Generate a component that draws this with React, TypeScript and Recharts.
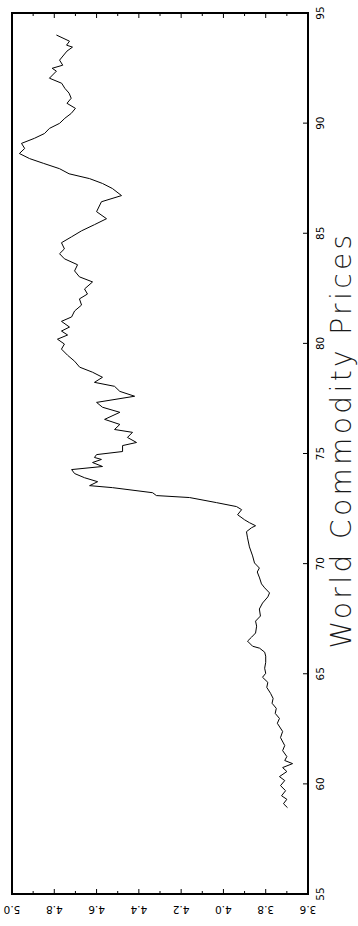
import React from "react";
import { LineChart, Line, XAxis, YAxis, ReferenceArea } from "recharts";

// log world commodity price index
const years = [
  58.92, 59.1, 59.3, 59.46, 59.69, 59.92, 60.15, 60.33, 60.56, 60.74, 60.92, 61.06, 61.24, 61.51,
  61.74, 62.1, 62.38, 62.75, 62.97, 63.2, 63.43, 63.66, 63.88, 64.11, 64.38, 64.61, 64.84, 65.02,
  65.25, 65.52, 65.8, 65.98, 66.16, 66.25, 66.48, 66.66, 66.85, 67.16, 67.39, 67.62, 67.94, 68.21,
  68.49, 68.67, 68.9, 69.08, 69.35, 69.62, 69.8, 70.03, 70.35, 70.76, 71.17, 71.45, 71.63, 71.72,
  71.86, 71.99, 72.22, 72.45, 72.59, 72.77, 73.0, 73.09, 73.22, 73.45, 73.54, 73.72, 73.9, 74.09,
  74.27, 74.41, 74.59, 74.73, 74.82, 74.95, 75.09, 75.36, 75.5, 75.73, 75.96, 76.09, 76.32, 76.55,
  76.87, 77.1, 77.32, 77.6, 77.82, 78.05, 78.23, 78.46, 78.69, 78.92, 79.19, 79.46, 79.74, 79.97,
  80.19, 80.38, 80.56, 80.74, 81.0, 81.2, 81.47, 81.74, 82.02, 82.24, 82.47, 82.79, 83.02, 83.29,
  83.57, 83.84, 84.07, 84.29, 84.57, 84.84, 85.11, 85.39, 85.66, 85.98, 86.43, 86.71, 87.03, 87.26,
  87.48, 87.7, 87.93, 88.17, 88.39, 88.62, 88.85, 89.08, 89.31, 89.53, 89.76, 89.99, 90.22, 90.44,
  90.67, 90.9, 91.13, 91.36, 91.58, 91.81, 92.04, 92.36, 92.49, 92.63, 92.86, 93.27, 93.45, 93.54,
  93.72, 94.0,
];

const prices = [
  3.697, 3.716, 3.7, 3.725, 3.706, 3.73, 3.71, 3.735, 3.7, 3.72, 3.673, 3.71, 3.7, 3.72,
  3.71, 3.73, 3.72, 3.745, 3.735, 3.755, 3.75, 3.77, 3.765, 3.777, 3.795, 3.79, 3.815, 3.8,
  3.805, 3.8, 3.8, 3.805, 3.829, 3.862, 3.886, 3.867, 3.848, 3.843, 3.848, 3.825, 3.83, 3.815,
  3.79, 3.782, 3.805, 3.82, 3.829, 3.84, 3.83, 3.853, 3.862, 3.877, 3.886, 3.891, 3.867, 3.848,
  3.877, 3.9, 3.933, 3.914, 3.938, 4.033, 4.16, 4.317, 4.335, 4.525, 4.633, 4.595, 4.657, 4.704,
  4.718, 4.572, 4.619, 4.577, 4.61, 4.6, 4.477, 4.477, 4.411, 4.454, 4.43, 4.515, 4.49, 4.562,
  4.49, 4.572, 4.6, 4.42, 4.49, 4.515, 4.61, 4.572, 4.619, 4.68, 4.704, 4.737, 4.766, 4.752,
  4.785, 4.737, 4.766, 4.728, 4.766, 4.718, 4.704, 4.671, 4.681, 4.643, 4.657, 4.619, 4.681, 4.704,
  4.69, 4.752, 4.775, 4.752, 4.766, 4.718, 4.671, 4.61, 4.553, 4.6, 4.577, 4.482, 4.525, 4.572,
  4.633, 4.73, 4.775, 4.85, 4.917, 4.965, 4.94, 4.955, 4.894, 4.846, 4.823, 4.775, 4.75, 4.72,
  4.7, 4.74, 4.72, 4.73, 4.75, 4.765, 4.823, 4.79, 4.81, 4.76, 4.775, 4.74, 4.714, 4.742,
  4.728, 4.79,
];

const valueTicks = [3.6, 3.7, 3.8, 3.9, 4.0, 4.1, 4.2, 4.3, 4.4, 4.5, 4.6, 4.7, 4.8, 4.9, 5.0];
const yearTicks = [55, 60, 65, 70, 75, 80, 85, 90, 95];
const title = "World Commodity Prices";

const data = years.map((year, i) => ({ year, price: prices[i] }));

// the chart is drawn landscape (926 x 358) and turned a quarter turn
const W = 926;
const H = 358;
const MARGIN = { top: 12, right: 13, bottom: 8, left: 8 };
const X_AXIS_H = 42;
const Y_AXIS_W = 24;
const PLOT_LEFT = MARGIN.left + Y_AXIS_W;
const PLOT_RIGHT = W - MARGIN.right;
const PLOT_BOTTOM = H - MARGIN.bottom - X_AXIS_H;
const FONT = "'DejaVu Sans', sans-serif";

function isMajor(v: number) {
  return Math.round(v * 10) % 2 === 0;
}

function ValueTick(props: any) {
  const { y, payload } = props;
  const major = isMajor(payload.value);
  const len = major ? 5 : 3;
  const tx = PLOT_LEFT - 16;
  return (
    <g>
      <line x1={PLOT_LEFT} x2={PLOT_LEFT + len} y1={y} y2={y} stroke="#000" />
      <line x1={PLOT_RIGHT} x2={PLOT_RIGHT - len} y1={y} y2={y} stroke="#000" />
      {major && (
        <text
          x={tx}
          y={y}
          transform={`rotate(-90 ${tx} ${y})`}
          textAnchor="middle"
          dominantBaseline="central"
          fontSize={10.5}
          fontFamily={FONT}
          fill="#000"
        >
          {payload.value.toFixed(1)}
        </text>
      )}
    </g>
  );
}

function YearTick(props: any) {
  const { x, payload } = props;
  const ty = PLOT_BOTTOM + 12;
  return (
    <g>
      <line x1={x} x2={x} y1={PLOT_BOTTOM} y2={PLOT_BOTTOM - 5} stroke="#000" />
      <text
        x={x}
        y={ty}
        textAnchor="middle"
        dominantBaseline="central"
        fontSize={10.5}
        fontFamily={FONT}
        fill="#000"
      >
        {payload.value}
      </text>
    </g>
  );
}

export default function App() {
  return (
    <div style={{ position: "absolute", left: 0, top: 0, width: H, height: W, background: "#fff", overflow: "hidden" }}>
      <div
        style={{
          position: "absolute",
          left: 0,
          top: 0,
          width: W,
          height: H,
          transformOrigin: "0 0",
          transform: `translate(0px, ${W}px) rotate(-90deg)`,
        }}
      >
        <LineChart width={W} height={H} data={data} margin={MARGIN}>
          <XAxis
            type="number"
            dataKey="year"
            domain={[55, 95]}
            ticks={yearTicks}
            interval={0}
            height={X_AXIS_H}
            tickSize={0}
            tickMargin={0}
            tickLine={false}
            axisLine={false}
            tick={<YearTick />}
          />
          <YAxis
            type="number"
            domain={[3.6, 5.0]}
            ticks={valueTicks}
            interval={0}
            width={Y_AXIS_W}
            tickSize={0}
            tickMargin={0}
            tickLine={false}
            axisLine={false}
            tick={<ValueTick />}
          />
          <ReferenceArea
            x1={55}
            x2={95}
            y1={3.6}
            y2={5.0}
            fill="none"
            fillOpacity={0}
            stroke="#000"
            strokeWidth={2}
            ifOverflow="visible"
          />
          <Line
            dataKey="price"
            stroke="#000"
            strokeWidth={1}
            dot={false}
            isAnimationActive={false}
          />
        </LineChart>
        <svg width={W} height={H} style={{ position: "absolute", left: 0, top: 0, pointerEvents: "none" }}>
          <text
            x={486}
            y={351}
            textAnchor="middle"
            fontFamily="'DejaVu Sans ExtraLight', 'DejaVu Sans', sans-serif"
            fontWeight={200}
            fontSize={28}
            letterSpacing={3.4}
            fill="#1a1a1a"
          >
            {title}
          </text>
        </svg>
      </div>
    </div>
  );
}
